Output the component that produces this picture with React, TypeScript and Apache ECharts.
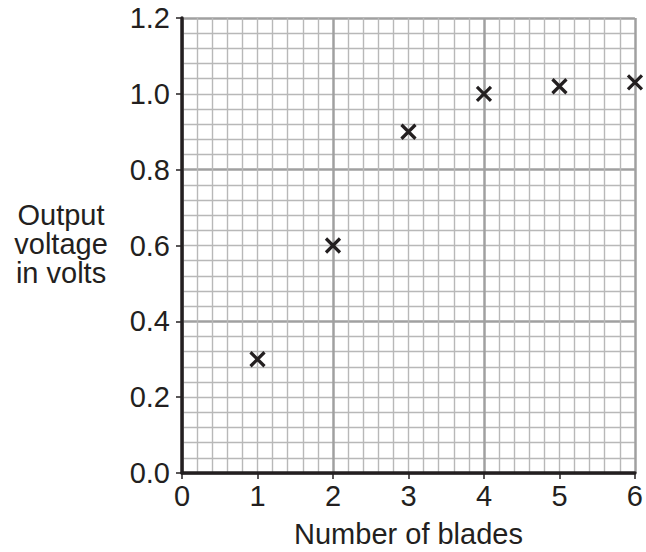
import React, { useEffect, useRef } from "react";
import * as echarts from "echarts";

const blades = [1, 2, 3, 4, 5, 6];
const voltage = [0.3, 0.6, 0.9, 1.0, 1.02, 1.03];
const xTicks = [0, 1, 2, 3, 4, 5, 6];
const yTicks = [0, 0.2, 0.4, 0.6, 0.8, 1.0, 1.2];
const xTitle = "Number of blades";
const yTitle = "Output\nvoltage\nin volts";

const INK = "#231f20";
const FONT = "'Liberation Sans', Arial, Helvetica, sans-serif";

export default function App() {
  const ref = useRef<HTMLDivElement>(null);
  useEffect(() => {
    if (!ref.current) return;
    const chart = echarts.init(ref.current, undefined, { renderer: "svg" });
    const xMin = xTicks[0];
    const xMax = xTicks[xTicks.length - 1];
    const yMin = yTicks[0];
    const yMax = yTicks[yTicks.length - 1];
    const hidden = {
      axisLine: { show: false },
      axisTick: { show: false },
      axisLabel: { show: false },
    };
    const major = { show: true, lineStyle: { color: "#a0a0a0", width: 2.5 } };
    const minor = { show: true, lineStyle: { color: "#b8b8b8", width: 1.4 } };
    chart.setOption({
      animation: false,
      backgroundColor: "#fff",
      grid: { left: 182, right: 11, top: 18, bottom: 79, containLabel: false },
      xAxis: [
        {
          type: "value",
          min: xMin,
          max: xMax,
          interval: 1,
          position: "bottom",
          z: 5,
          axisLine: { show: true, onZero: false, lineStyle: { color: INK, width: 3.5 } },
          axisTick: { show: true, length: 6, lineStyle: { color: INK, width: 1.5 } },
          axisLabel: { show: true, margin: 8, color: INK, fontSize: 29, fontFamily: FONT },
          splitLine: { show: false },
        },
        {
          type: "value",
          min: xMin,
          max: xMax,
          interval: 2,
          position: "bottom",
          z: 1,
          ...hidden,
          minorTick: { show: false, splitNumber: 10 },
          splitLine: major,
          minorSplitLine: minor,
        },
      ],
      yAxis: [
        {
          type: "value",
          min: yMin,
          max: yMax,
          interval: 0.2,
          position: "left",
          z: 5,
          axisLine: { show: true, onZero: false, lineStyle: { color: INK, width: 3.5 } },
          axisTick: { show: true, length: 6, lineStyle: { color: INK, width: 1.5 } },
          axisLabel: {
            show: true,
            margin: 12,
            color: INK,
            fontSize: 29,
            fontFamily: FONT,
            formatter: (v: number) => v.toFixed(1),
          },
          splitLine: { show: false },
        },
        {
          type: "value",
          min: yMin,
          max: yMax,
          interval: 0.4,
          position: "left",
          z: 1,
          ...hidden,
          minorTick: { show: false, splitNumber: 10 },
          splitLine: major,
          minorSplitLine: minor,
        },
      ],
      series: [
        {
          type: "scatter",
          xAxisIndex: 0,
          yAxisIndex: 0,
          data: blades.map((b, i) => [b, voltage[i]]),
          symbol: "path://M0,0L10,10M10,0L0,10",
          symbolSize: 14,
          clip: false,
          z: 10,
          itemStyle: { color: "rgba(0,0,0,0)", borderColor: INK, borderWidth: 3.2, opacity: 1 },
        },
      ],
      graphic: [
        {
          type: "text",
          x: 408.5,
          y: 534,
          style: {
            text: xTitle,
            fill: INK,
            font: `29px ${FONT}`,
            textAlign: "center",
            textVerticalAlign: "middle",
          },
        },
        {
          type: "text",
          x: 61,
          y: 244,
          style: {
            text: yTitle,
            fill: INK,
            font: `29px ${FONT}`,
            lineHeight: 29,
            textAlign: "center",
            textVerticalAlign: "middle",
          },
        },
      ],
    });
    return () => chart.dispose();
  }, []);
  return (
    <div
      ref={ref}
      style={{ position: "fixed", left: 0, top: 0, width: 646, height: 552 }}
    />
  );
}
